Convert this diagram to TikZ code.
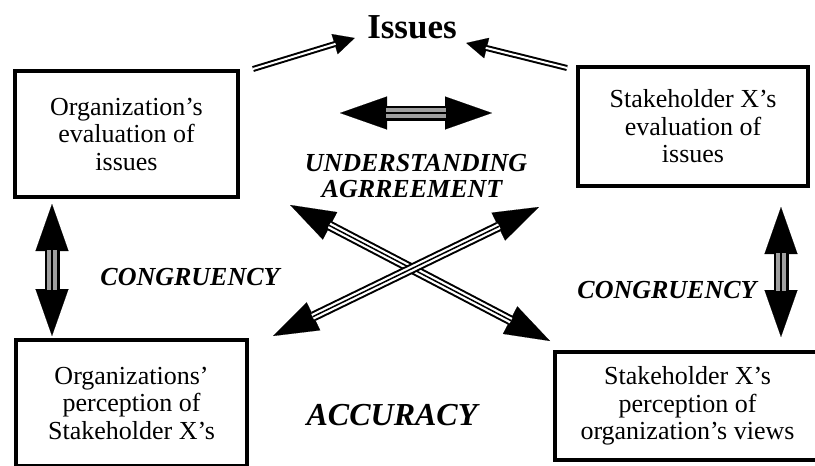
\documentclass[tikz,border=0pt]{standalone}
\usepackage{fontspec}
\setmainfont{Liberation Serif}
\usetikzlibrary{positioning, arrows.meta, calc}

\begin{document}
\begin{tikzpicture}[x=1pt, y=-1pt,
    box/.style={draw, rectangle, line width=4pt, align=center, inner sep=0pt, font=\fontsize{26}{27.5}\selectfont},
    tag/.style={font=\fontsize{26}{28}\selectfont\bfseries\itshape},
    % schmale Doppellinie zu "Issues"
    issueline/.style={line width=6pt, -{Triangle[length=21pt, width=21pt, line width=0.1pt]}},
    issuegap/.style={line width=2pt, white, shorten >=20pt},
    % breite Doppelpfeile (Kongruenz, Verstaendnis)
    bigline/.style={line width=15pt, {Triangle[length=47pt, width=33pt, line width=0.1pt]}-{Triangle[length=47pt, width=33pt, line width=0.1pt]}},
    biggap/.style={line width=10pt, gray!75, shorten >=46pt, shorten <=46pt},
    % Kreuzpfeile (Genauigkeit)
    crossline/.style={line width=10pt, {Triangle[length=45pt, width=31pt, line width=0.1pt]}-{Triangle[length=45pt, width=31pt, line width=0.1pt]}},
    crossgap/.style={line width=6pt, white, shorten >=44pt, shorten <=44pt},
    midline/.style={line width=1.5pt, shorten >=44pt, shorten <=44pt}
]

\useasboundingbox (0,0) rectangle (815,466);
\fill[white] (0,0) rectangle (815,466);
\clip (0,0) rectangle (815,466);

% 1. Die vier Kaesten
\node[box, minimum width=223pt, minimum height=126pt] (orgeval) at (126.5,134) {Organization's\\evaluation of\\issues};
\node[box, minimum width=230pt, minimum height=119pt] (stakeeval) at (693,126.5) {Stakeholder X's\\evaluation of\\issues};
\node[box, minimum width=231pt, minimum height=126pt] (orgperc) at (131.5,403) {Organizations'\\perception of\\Stakeholder X's};
\node[box, minimum width=265pt, minimum height=108pt] (stakeperc) at (687.5,406) {Stakeholder X's\\perception of\\organization's views};

% 2. Beschriftungen
\node[font=\fontsize{35}{38}\selectfont\bfseries] (issues) at (412,27) {Issues};
\node[tag] (understand) at (416,163) {UNDERSTANDING};
\node[tag] (agree) at (412,189) {AGRREEMENT};
\node[tag] (congleft) at (190,277) {CONGRUENCY};
\node[tag] (congright) at (667,290) {CONGRUENCY};
\node[tag, font=\fontsize{32}{34}\selectfont\bfseries\itshape] (accuracy) at (392,415) {ACCURACY};

% 3. Endpunkte der Pfeile
\coordinate (il) at ($(orgeval.north east)+(13,0)$);
\coordinate (ir) at ($(stakeeval.north west)+(-9,3)$);
\coordinate (it) at ($(issues.west)+(-9,11)$);
\coordinate (iu) at ($(issues.east)+(6,16)$);
\coordinate (hl) at (340,113);
\coordinate (hr) at (492,113);
\coordinate (cl1) at ($(orgeval.south west)+(39,5)$);
\coordinate (cl2) at ($(orgperc.north west)+(38,-2)$);
\coordinate (cr1) at ($(stakeeval.south east)+(-29,19)$);
\coordinate (cr2) at ($(stakeperc.north east)+(-41,-13)$);
\coordinate (ul) at ($(agree.west)+(-28,16)$);
\coordinate (ur) at ($(agree.east)+(33,18)$);
\coordinate (ll) at ($(orgperc.north east)+(24,-2)$);
\coordinate (lr) at ($(stakeperc.north west)+(-3,-9)$);

% 4. Pfeile zu "Issues"
\draw[issueline] (il) -- (it);
\draw[issuegap] (il) -- (it);
\draw[issueline] (ir) -- (iu);
\draw[issuegap] (ir) -- (iu);

% 5. breite Doppelpfeile
\foreach \a/\b in {hl/hr, cl1/cl2, cr1/cr2} {
  \draw[bigline] (\a) -- (\b);
  \draw[biggap] (\a) -- (\b);
  \draw[midline, shorten >=46pt, shorten <=46pt] (\a) -- (\b);
}

% 6. Kreuzpfeile
\foreach \a/\b in {ul/lr, ur/ll} {
  \draw[crossline] (\a) -- (\b);
  \draw[crossgap] (\a) -- (\b);
  \draw[midline] (\a) -- (\b);
}

\end{tikzpicture}
\end{document}
